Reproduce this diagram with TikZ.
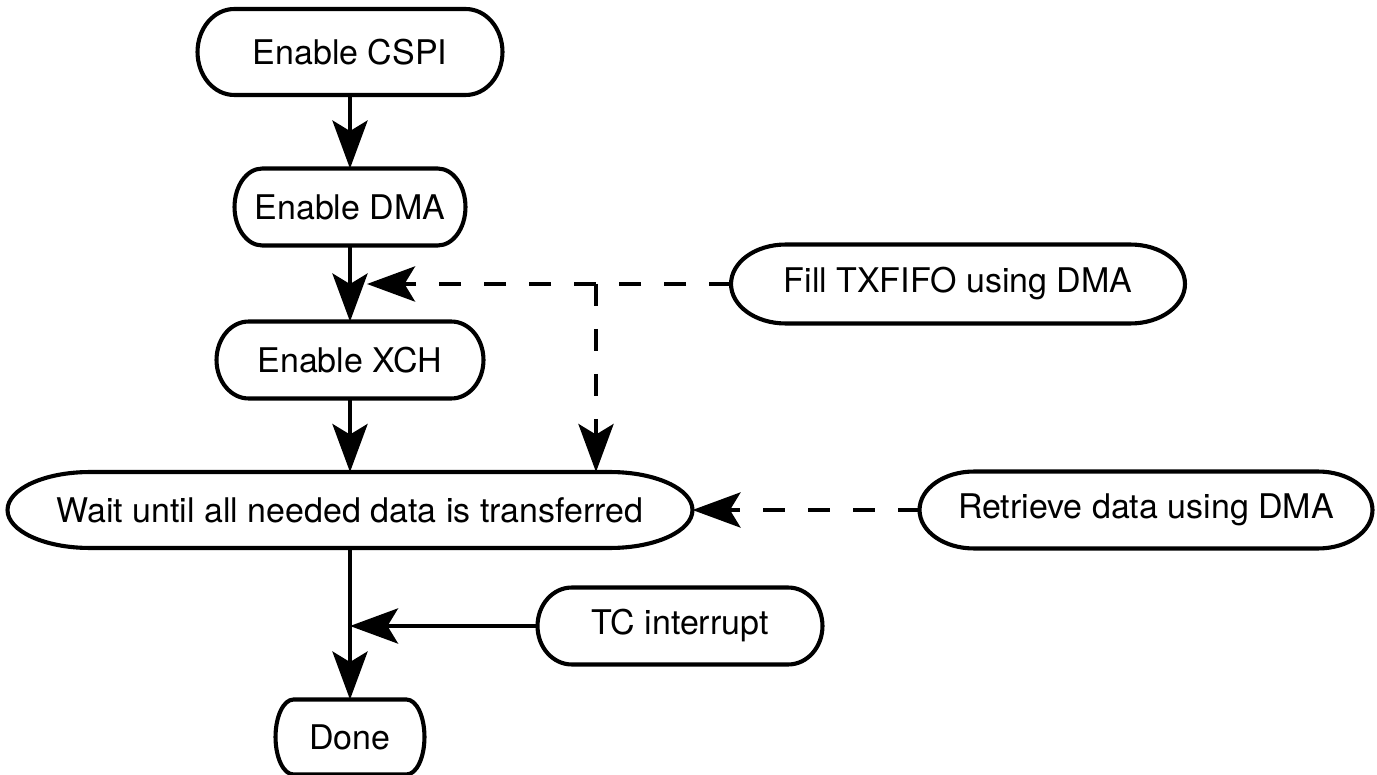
\documentclass[tikz,border=0pt]{standalone}
\usepackage{fontspec}
\setmainfont{TeX Gyre Heros}
\usetikzlibrary{arrows.meta, calc}

% outline of a terminal box: straight top and bottom, half-ellipse ends
\newcommand{\termframe}[1]{%
	\draw[frame] let \p1=(#1.west), \p2=(#1.east), \p3=(#1.north), \p4=(#1.south),
		\n1={0.12*(\x2-\x1)}, \n2={(\y3-\y4)/2} in
		(\x1+\n1,\y3) -- (\x2-\n1,\y3)
		arc[start angle=90, end angle=-90, x radius=\n1, y radius=\n2]
		-- (\x1+\n1,\y4)
		arc[start angle=270, end angle=90, x radius=\n1, y radius=\n2] -- cycle;}

\begin{document}
\begin{tikzpicture}[x=0.015cm, y=-0.015cm,
		>={Stealth[length=20.5pt, width=15pt, inset=4.5pt]},
		font=\fontsize{14.5}{17}\selectfont,
		term/.style={inner sep=0pt, minimum height=1.14cm},
		frame/.style={line width=1.75pt},
		flow/.style={->, line width=1.6pt},
		signal/.style={->, line width=1.6pt, dash pattern=on 9.4pt off 9.8pt}]
	
	\useasboundingbox (0,0) rectangle (1377,775);
	
	% ---------------------------------------------------------
	% Main sequence
	% ---------------------------------------------------------
	\node[term, minimum width=4.56cm, minimum height=1.275cm] (cspi) at (350, 52) {Enable CSPI};
	\node[term, minimum width=3.45cm] (dma) at (350, 207) {Enable DMA};
	\node[term, minimum width=3.99cm] (xch) at (350, 360) {Enable XCH};
	\node[term, minimum width=10.26cm, minimum height=1.125cm] (wait) at (350, 510) {Wait until all needed data is transferred};
	\node[term, minimum width=2.22cm, minimum height=1.11cm] (done) at (350, 737) {Done};
	
	% ---------------------------------------------------------
	% Side events
	% ---------------------------------------------------------
	\node[term, minimum width=6.795cm, minimum height=1.17cm] (fill) at (958, 284) {Fill TXFIFO using DMA};
	\node[term, minimum width=6.78cm] (retr) at (1146, 510) {Retrieve data using DMA};
	\node[term, minimum width=4.26cm] (tc) at (680, 626) {TC interrupt};
	
	\foreach \nd in {cspi, dma, xch, wait, done, fill, retr, tc}
		\termframe{\nd};
	
	% Flow arrows
	\draw[flow] (cspi.south) -- (dma.north);
	\draw[flow] (dma.south) -- (xch.north);
	\draw[flow] (xch.south) -- (wait.north);
	\draw[flow] (wait.south) -- (done.north);
	
	% DMA requests (dashed)
	\coordinate (inA) at ($(fill.west -| dma.south)+(17,0)$);
	\coordinate (branch) at (596, 284);
	\draw[signal] (fill.west) -- (inA);
	\draw[signal] (branch) -- (branch |- wait.north);
	\draw[signal] (retr.west) -- (wait.east);
	
	% Interrupt
	\draw[flow] (tc.west) -- (tc.west -| done.north);
	
\end{tikzpicture}
\end{document}
